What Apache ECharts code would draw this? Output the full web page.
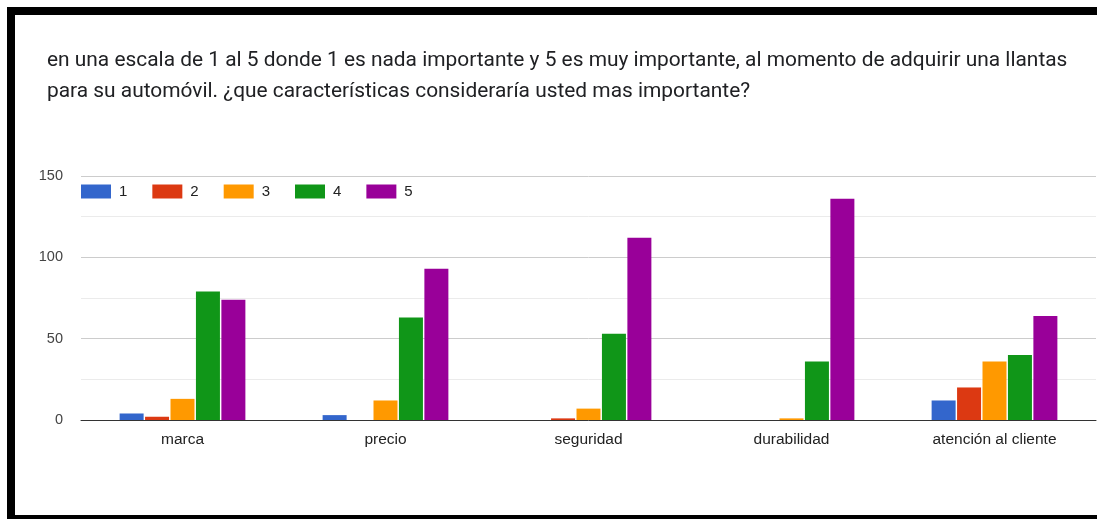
<!DOCTYPE html>
<html>
<head>
<meta charset="utf-8">
<script src="https://cdn.jsdelivr.net/npm/echarts@6/dist/echarts.min.js"></script>
<style>
  html, body { margin: 0; padding: 0; background: #ffffff; }
  #chart { width: 1097px; height: 519px; }
</style>
</head>
<body>
<div id="chart"></div>
<script>
// Survey answers: how many people rated each tyre feature from 1 to 5
const categories = ['marca', 'precio', 'seguridad', 'durabilidad', 'atención al cliente'];
const seriesNames = ['1', '2', '3', '4', '5'];
const rating1 = [4, 3, 0, 0, 12];
const rating2 = [2, 0, 1, 0, 20];
const rating3 = [13, 12, 7, 1, 36];
const rating4 = [79, 63, 53, 36, 40];
const rating5 = [74, 93, 112, 136, 64];
const seriesColors = ['#3366cc', '#dc3912', '#ff9900', '#109618', '#990099'];
const titleText = 'en una escala de 1 al 5 donde 1 es nada importante y 5 es muy importante, al momento de adquirir una llantas\npara su automóvil. ¿que características consideraría usted mas importante?';

const ratings = [rating1, rating2, rating3, rating4, rating5];

const chart = echarts.init(document.getElementById('chart'), null, { renderer: 'canvas' });

const series = ratings.map((vals, i) => ({
  name: seriesNames[i],
  type: 'bar',
  data: vals,
  barWidth: 24,
  barGap: '6%',
  itemStyle: { color: seriesColors[i] },
  emphasis: { disabled: true }
}));

chart.setOption({
  animation: false,
  backgroundColor: '#ffffff',
  title: {
    text: titleText,
    left: 47,
    top: 45,
    padding: 0,
    textStyle: {
      fontFamily: 'Roboto',
      fontSize: 20.9,
      fontWeight: 'normal',
      color: '#202124',
      lineHeight: 31.5
    }
  },
  legend: {
    data: seriesNames,
    left: 81,
    top: 184,
    padding: 0,
    itemWidth: 30,
    itemHeight: 14,
    itemGap: 25,
    icon: 'rect',
    textStyle: {
      fontFamily: 'Liberation Sans',
      fontSize: 15,
      color: '#222222',
      padding: [0, 0, 0, 3]
    }
  },
  grid: {
    left: 81,
    top: 176,
    width: 1015,
    height: 244,
    containLabel: false
  },
  xAxis: {
    type: 'category',
    data: categories,
    axisLine: { show: true, lineStyle: { color: '#333333', width: 1 } },
    axisTick: { show: false },
    axisLabel: {
      margin: 12,
      fontFamily: 'Liberation Sans',
      fontSize: 15.5,
      color: '#222222'
    },
    splitLine: { show: false }
  },
  yAxis: {
    type: 'value',
    min: 0,
    max: 150,
    interval: 50,
    axisLine: { show: false },
    axisTick: { show: false },
    axisLabel: {
      margin: 18,
      fontFamily: 'Liberation Sans',
      fontSize: 14.5,
      color: '#444444'
    },
    splitLine: { show: true, lineStyle: { color: '#cccccc', width: 1 } },
    minorTick: { show: false, splitNumber: 2 },
    minorSplitLine: { show: true, lineStyle: { color: '#ebebeb', width: 1 } }
  },
  series: series,
  graphic: [
    // black frame around the card: top, left and bottom edges
    { type: 'rect', shape: { x: 7, y: 7, width: 1090, height: 8 }, style: { fill: '#000000' }, silent: true },
    { type: 'rect', shape: { x: 7, y: 7, width: 8, height: 512 }, style: { fill: '#000000' }, silent: true },
    { type: 'rect', shape: { x: 7, y: 515, width: 1090, height: 4 }, style: { fill: '#000000' }, silent: true }
  ]
});
</script>
</body>
</html>
